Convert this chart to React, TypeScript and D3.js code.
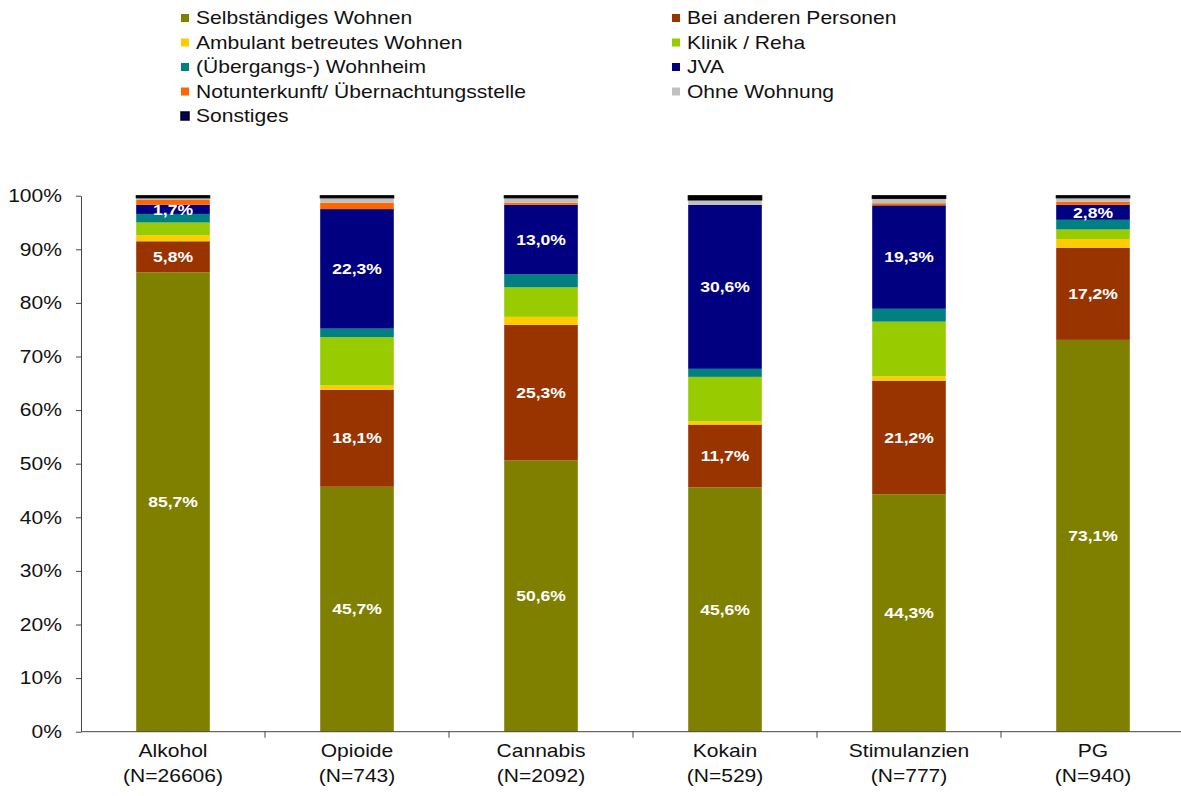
import React, { useEffect, useRef } from 'react';
import * as d3 from 'd3';

const categories = ['Alkohol', 'Opioide', 'Cannabis', 'Kokain', 'Stimulanzien', 'PG'];
const sampleSizes = ['(N=26606)', '(N=743)', '(N=2092)', '(N=529)', '(N=777)', '(N=940)'];

const seriesNames = [
    'Selbständiges Wohnen',
    'Bei anderen Personen',
    'Ambulant betreutes Wohnen',
    'Klinik / Reha',
    '(Übergangs-) Wohnheim',
    'JVA',
    'Notunterkunft/ Übernachtungsstelle',
    'Ohne Wohnung',
    'Sonstiges',
];
const seriesColors = ['#808000', '#993300', '#FFCC00', '#99CC00', '#008080', '#000080', '#FF6600', '#C0C0C0', '#000000'];

// values per series, in category order
const selbstaendig = [85.7, 45.7, 50.6, 45.6, 44.3, 73.1];
const beiAnderen = [5.8, 18.1, 25.3, 11.7, 21.2, 17.2];
const ambulant = [1.1, 0.8, 1.5, 0.6, 0.8, 1.6];
const klinik = [2.4, 9.0, 5.5, 8.3, 10.2, 1.8];
const wohnheim = [1.6, 1.6, 2.4, 1.5, 2.4, 1.8];
const jva = [1.7, 22.3, 13.0, 30.6, 19.3, 2.8];
const notunterkunft = [0.9, 1.2, 0.4, 0.0, 0.4, 0.6];
const ohneWohnung = [0.4, 0.9, 0.9, 0.9, 0.9, 0.7];
const sonstiges = [0.4, 0.4, 0.4, 0.8, 0.5, 0.4];

const seriesValues = [selbstaendig, beiAnderen, ambulant, klinik, wohnheim, jva, notunterkunft, ohneWohnung, sonstiges];
// series that carry a value label inside the bar
const labelledSeries = ['Selbständiges Wohnen', 'Bei anderen Personen', 'JVA'];

const yTicks = [0, 10, 20, 30, 40, 50, 60, 70, 80, 90, 100];

const FONT = '"Liberation Sans", Arial, sans-serif';
// the original's text is a bit wider than plain Arial
const SX = 1.17;

const App: React.FC = () => {
    const svgRef = useRef<SVGSVGElement>(null);

    useEffect(() => {
        const width = 1181;
        const height = 796;

        d3.select(svgRef.current).selectAll('*').remove();
        const svg = d3.select(svgRef.current)
            .attr('width', width)
            .attr('height', height)
            .style('font-family', FONT);

        const rows = categories.map((c, i) => {
            const row: Record<string, any> = { category: c };
            seriesNames.forEach((s, j) => { row[s] = seriesValues[j][i]; });
            return row;
        });

        const stacked = d3.stack<Record<string, any>>().keys(seriesNames)(rows);

        const x = d3.scaleBand()
            .domain(categories)
            .range([81, 1185])
            .paddingInner(0.6)
            .paddingOuter(0.3);

        const y = d3.scaleLinear()
            .domain([0, 100])
            .range([731.7, 195.7]);

        const color = d3.scaleOrdinal<string, string>().domain(seriesNames).range(seriesColors);

        // Bars
        const layers = svg.append('g')
            .selectAll('g')
            .data(stacked)
            .join('g')
            .attr('fill', d => color(d.key));

        layers.selectAll('rect')
            .data(d => d.map(p => ({ key: d.key, p })))
            .join('rect')
            .attr('x', d => x(d.p.data.category) as number)
            .attr('width', x.bandwidth())
            .attr('y', d => y(d.p[1]))
            .attr('height', d => Math.max(0, y(d.p[0]) - y(d.p[1])))
            .attr('stroke', d => d.key === 'Sonstiges' ? '#000' : 'none')
            .attr('stroke-width', 1);

        // Value labels
        stacked.filter(s => labelledSeries.includes(s.key)).forEach(s => {
            svg.append('g')
                .selectAll('text')
                .data(s)
                .join('text')
                .attr('transform', d => `translate(${(x(d.data.category) as number) + x.bandwidth() / 2},${(y(d[0]) + y(d[1])) / 2}) scale(${SX},1)`)
                .attr('dy', '0.35em')
                .attr('text-anchor', 'middle')
                .attr('fill', '#fff')
                .style('font-size', '15px')
                .style('font-weight', 'bold')
                .text(d => (d[1] - d[0]).toFixed(1).replace('.', ',') + '%');
        });

        // Y Axis
        const yAxis = svg.append('g')
            .attr('transform', 'translate(81,0)')
            .call(d3.axisLeft(y).tickValues(yTicks).tickFormat(d => `${d}%`).tickSize(5).tickSizeOuter(0));
        yAxis.select('.domain').attr('stroke', '#444');
        yAxis.selectAll('line').attr('stroke', '#444');
        yAxis.selectAll('text')
            .attr('x', -19 / SX)
            .attr('transform', `scale(${SX},1)`)
            .style('font-size', '18px')
            .style('font-family', FONT)
            .attr('fill', '#111');

        // X Axis
        const xAxis = svg.append('g');
        xAxis.append('line')
            .attr('x1', 81).attr('x2', 1185)
            .attr('y1', y(0)).attr('y2', y(0))
            .attr('stroke', '#444');
        const step = x.step();
        xAxis.selectAll('line.tick')
            .data(categories.slice(0, -1))
            .join('line')
            .attr('class', 'tick')
            .attr('x1', d => (x(d) as number) + x.bandwidth() / 2 + step / 2)
            .attr('x2', d => (x(d) as number) + x.bandwidth() / 2 + step / 2)
            .attr('y1', y(0)).attr('y2', y(0) + 6)
            .attr('stroke', '#444');
        const catText = xAxis.selectAll('text')
            .data(categories)
            .join('text')
            .attr('transform', d => `translate(${(x(d) as number) + x.bandwidth() / 2},757) scale(${SX},1)`)
            .attr('text-anchor', 'middle')
            .attr('fill', '#111')
            .style('font-size', '18px');
        catText.append('tspan').attr('x', 0).text(d => d);
        catText.append('tspan')
            .attr('x', 0)
            .attr('dy', 25)
            .text((d, i) => sampleSizes[i]);

        // Legend
        const legend = svg.append('g');
        seriesNames.forEach((name, i) => {
            const col = i % 2;
            const row = Math.floor(i / 2);
            const lx = col === 0 ? 181 : 672;
            const ly = 18 + row * 24.5;
            legend.append('rect')
                .attr('x', lx).attr('y', ly - 4)
                .attr('width', 8).attr('height', 8)
                .attr('fill', name === 'Sonstiges' ? '#000066' : color(name))
                .attr('stroke', name === 'Sonstiges' ? '#000' : 'none')
                .attr('stroke-width', 1.5);
            legend.append('text')
                .attr('transform', `translate(${lx + 15},${ly}) scale(${SX},1)`)
                .attr('dy', '0.35em')
                .attr('fill', '#111')
                .style('font-size', '18px')
                .text(name);
        });
    }, []);

    return <svg ref={svgRef} style={{ position: 'absolute', left: 0, top: 0 }}></svg>;
};

export default App;
